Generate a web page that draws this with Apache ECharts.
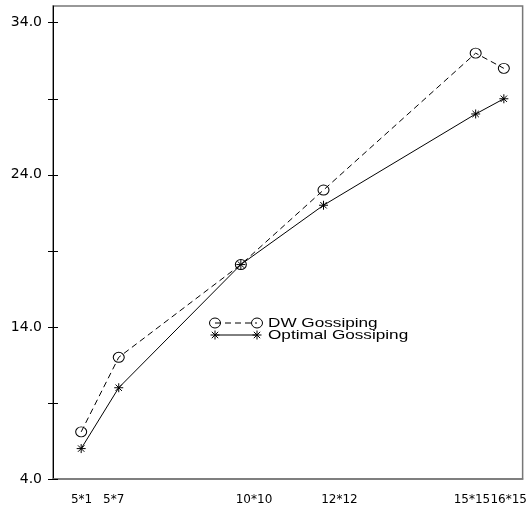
<!DOCTYPE html>
<html>
<head>
<meta charset="utf-8">
<script src="https://cdn.jsdelivr.net/npm/echarts@6/dist/echarts.min.js"></script>
<style>html,body{margin:0;padding:0;background:#fff}#c{width:530px;height:510px}</style>
</head>
<body>
<div id="c"></div>
<script>
// node counts (x positions of the measurements)
const xValues = [15, 35, 100, 144, 225, 240];
const dwGossiping = [7.1, 12.0, 18.1, 23.0, 32.0, 31.0];
const optimalGossiping = [6.0, 10.0, 18.1, 22.0, 28.0, 29.0];
const seriesNames = ['DW Gossiping', 'Optimal Gossiping'];
// x tick labels and where they sit on the x scale
const xTickLabels = ['5*1', '5*7', '10*10', '12*12', '15*15', '16*15'];
const xTickPos = [15.2, 32.3, 107, 152.5, 223, 242.6];
// y ticks
const yTickValues = [4, 9, 14, 19, 24, 29, 34];
const yLabelValues = [4, 14, 24, 34];

const starPath = 'path://M0,4.5L9,4.5M4.5,0L4.5,9M1.3,1.3L7.7,7.7M7.7,1.3L1.3,7.7';

const chart = echarts.init(document.getElementById('c'), null, {renderer: 'canvas'});

function pairs(ys) { return xValues.map((x, i) => [x, ys[i]]); }

const legendY = [323, 335];
const legendGraphic = [];
// DW legend row
legendGraphic.push({type: 'line', shape: {x1: 215, y1: legendY[0], x2: 257, y2: legendY[0]},
  style: {stroke: '#000', lineWidth: 1, lineDash: [6, 4]}});
[215, 257].forEach(cx => legendGraphic.push({type: 'ellipse', shape: {cx: cx, cy: legendY[0], rx: 5.5, ry: 5},
  style: {fill: 'none', stroke: '#000', lineWidth: 1}}));
// Optimal legend row
legendGraphic.push({type: 'line', shape: {x1: 215, y1: legendY[1], x2: 257, y2: legendY[1]},
  style: {stroke: '#000', lineWidth: 1}});
[215, 257].forEach(cx => {
  const r = 4.5, d = 3.2;
  const segs = [
    [[cx - r, legendY[1]], [cx + r, legendY[1]]],
    [[cx, legendY[1] - r], [cx, legendY[1] + r]],
    [[cx - d, legendY[1] - d], [cx + d, legendY[1] + d]],
    [[cx + d, legendY[1] - d], [cx - d, legendY[1] + d]]
  ];
  segs.forEach(s => legendGraphic.push({type: 'polyline', shape: {points: s}, style: {stroke: '#000', lineWidth: 1, fill: 'none'}}));
});
seriesNames.forEach((n, i) => legendGraphic.push({type: 'text', x: 268, y: legendY[i], scaleX: 1.32,
  style: {text: n, font: '13px "Liberation Sans", Arial, sans-serif', fill: '#000', verticalAlign: 'middle', align: 'left'}}));

const option = {
  backgroundColor: '#fff',
  animation: false,
  grid: {left: 53, right: 5, top: 6, bottom: 31, show: true, borderColor: '#777', borderWidth: 1.5, backgroundColor: 'transparent'},
  xAxis: {
    type: 'value', min: 0, max: 250,
    splitLine: {show: false},
    axisLine: {show: true, onZero: false, lineStyle: {color: '#777', width: 1.5}},
    axisTick: {show: false},
    axisLabel: {
      customValues: xTickPos,
      margin: 15,
      fontSize: 12,
      fontFamily: 'DejaVu Sans',
      color: '#000',
      formatter: function (v) {
        let best = 0, bd = Infinity;
        xTickPos.forEach((p, i) => { const d = Math.abs(p - v); if (d < bd) { bd = d; best = i; } });
        return xTickLabels[best];
      }
    }
  },
  yAxis: [{
    type: 'value', min: 4, max: 35.1, position: 'left',
    splitLine: {show: false},
    axisLine: {show: true, onZero: false, lineStyle: {color: '#000', width: 1}},
    axisTick: {show: true, inside: true, length: 5, customValues: yTickValues, lineStyle: {color: '#000'}},
    axisLabel: {customValues: yLabelValues, margin: 11, fontSize: 14, fontFamily: 'DejaVu Sans', color: '#000',
      formatter: v => Number(v).toFixed(1)}
  }, {
    type: 'value', min: 4, max: 35.1, position: 'right',
    splitLine: {show: false},
    axisLine: {show: false},
    axisTick: {show: true, inside: true, length: 5, customValues: yTickValues, lineStyle: {color: '#000'}},
    axisLabel: {show: false}
  }],
  series: [{
    name: seriesNames[0], type: 'line', data: pairs(dwGossiping),
    symbol: 'circle', symbolSize: [11, 10],
    lineStyle: {color: '#000', width: 1, type: [6, 4]},
    itemStyle: {color: 'rgba(0,0,0,0)', borderColor: '#000', borderWidth: 1},
    z: 3
  }, {
    name: seriesNames[1], type: 'line', data: pairs(optimalGossiping),
    symbol: starPath, symbolSize: [9, 9],
    lineStyle: {color: '#000', width: 1},
    itemStyle: {color: 'rgba(0,0,0,0)', borderColor: '#000', borderWidth: 1},
    z: 3
  }],
  graphic: legendGraphic
};
chart.setOption(option);
</script>
</body>
</html>
